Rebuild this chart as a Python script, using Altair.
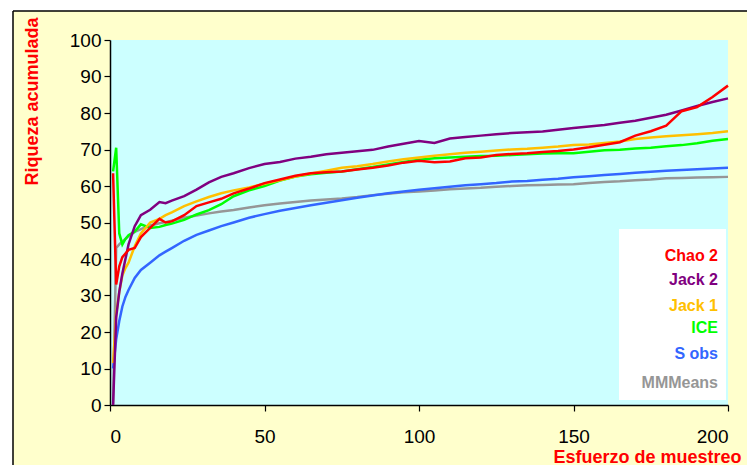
import altair as alt
import pandas as pd

samples = [1, 2, 3, 4, 5, 6, 8, 10, 13, 16, 18, 20, 24, 28, 32, 36, 40,
           45, 50, 55, 60, 65, 70, 75, 80, 85, 90,
           95, 100, 105, 110, 115, 120, 125, 130, 135, 140,
           145, 150, 155, 160, 165, 170, 175, 180, 185, 190,
           195, 200]

chao2 = [63.5, 33, 38, 40.5, 41.5, 42.5, 43, 46, 48.5, 51, 50, 50.3,
         52, 54.5, 55.5, 56.5, 58,
         59.3, 60.8, 61.8, 62.8, 63.5, 63.8, 64, 64.5, 65, 65.6,
         66.4, 66.9, 66.5, 66.7, 67.6, 67.8, 68.5, 68.8, 69, 69.3,
         69.6, 70, 70.6, 71.3, 72, 73.8, 75, 76.5, 80.5, 81.6,
         84.4, 87.5]

jack2 = [0, 24, 31, 36, 40, 44, 49, 52, 53.5, 55.6, 55.3, 56,
         57.2, 59, 61, 62.5, 63.5,
         64.9, 66, 66.6, 67.5, 68, 68.7, 69.1, 69.5, 69.9, 70.8,
         71.6, 72.3, 71.8, 73, 73.4, 73.8, 74.2, 74.5, 74.7, 74.9,
         75.4, 75.9, 76.3, 76.7, 77.3, 77.9, 78.7, 79.5, 80.7, 81.9,
         83, 84]

jack1 = [11.5, 25, 31, 35.5, 37.5, 39, 43.5, 47, 50, 51, 52, 52.8,
         54.5, 55.8, 57, 58, 58.8,
         59.6, 60.6, 61.6, 62.6, 63.4, 64.2, 65, 65.4, 66, 66.7,
         67.3, 67.8, 68.3, 68.7, 69.1, 69.4, 69.7, 70, 70.2, 70.5,
         70.8, 71.2, 71.4, 71.8, 72.2, 72.9, 73.3, 73.6, 73.9, 74.2,
         74.5, 75]

ice = [64, 70.5, 47, 44, 45.5, 46.5, 47.5, 49.5, 48.5, 48.8, 49.3, 49.7,
       50.7, 52.2, 53.4, 55, 57.2,
       58.8, 60, 61.5, 62.6, 63.2, 63.6, 64, 64.6, 65.2, 65.9,
       66.6, 67.2, 67.6, 67.8, 68, 68.2, 68.3, 68.5, 68.7, 68.9,
       69, 69, 69.4, 69.8, 69.9, 70.3, 70.5, 70.9, 71.2, 71.7,
       72.4, 72.9]

sobs = [10, 18, 23, 27, 29.6, 31.5, 34.8, 37, 39, 41, 42, 43,
        45, 46.6, 47.8, 49, 50,
        51.3, 52.3, 53.2, 54, 54.7, 55.4, 56.1, 56.8, 57.4, 58,
        58.5, 59, 59.4, 59.8, 60.2, 60.5, 60.8, 61.2, 61.4, 61.7,
        62, 62.4, 62.7, 63, 63.3, 63.6, 63.9, 64.2, 64.4, 64.6,
        64.8, 65]

mmmeans = [0, 43, 44, 44.8, 45.5, 46.2, 47.4, 48.2, 49.2, 49.8, 50.1, 50.5,
           51.3, 51.9, 52.5, 53, 53.4,
           54.1, 54.7, 55.2, 55.6, 56, 56.3, 56.6, 57, 57.5, 57.9,
           58.3, 58.5, 58.8, 59.1, 59.3, 59.5, 59.8, 60, 60.2, 60.3,
           60.4, 60.5, 60.8, 61.1, 61.3, 61.6, 61.8, 62.1, 62.2, 62.3,
           62.4, 62.5]

legend_names = ["Chao 2", "Jack 2", "Jack 1", "ICE", "S obs", "MMMeans"]
legend_colors = ["#FF0000", "#800080", "#FFC000", "#00FF00", "#3366FF", "#969696"]
x_ticks = [0, 50, 100, 150, 200]
y_ticks = [0, 10, 20, 30, 40, 50, 60, 70, 80, 90, 100]

# drawing order (bottom to top)
draw_order = ["MMMeans", "S obs", "ICE", "Jack 1", "Jack 2", "Chao 2"]
values_by_name = {"Chao 2": chao2, "Jack 2": jack2, "Jack 1": jack1,
                  "ICE": ice, "S obs": sobs, "MMMeans": mmmeans}

rows = []
for i, name in enumerate(draw_order):
    for s, v in zip(samples, values_by_name[name]):
        rows.append({"Serie": name, "Muestras": s, "Riqueza": v, "orden": i})
df = pd.DataFrame(rows)

FONT = "Liberation Sans"
TICK_FONT = "Liberation Sans Narrow, Liberation Sans"

lines = alt.Chart(df).mark_line(strokeWidth=2.5).encode(
    x=alt.X("Muestras:Q", scale=alt.Scale(domain=[0, 200], nice=False),
            axis=alt.Axis(values=x_ticks, title="Esfuerzo de muestreo", grid=False,
                          titleColor="#FF0000", titleFont=FONT, titleFontSize=18,
                          titleFontWeight="bold", titleX=631, titleY=57,
                          titleAlign="right", titleBaseline="alphabetic",
                          labelFont=TICK_FONT, labelFontSize=19, labelColor="black",
                          labelPadding=16, tickSize=6, tickColor="black",
                          domainColor="black", domainWidth=1.5, tickWidth=1.2)),
    y=alt.Y("Riqueza:Q", scale=alt.Scale(domain=[0, 100], nice=False),
            axis=alt.Axis(values=y_ticks, title="Riqueza acumulada", grid=False,
                          titleColor="#FF0000", titleFont=FONT, titleFontSize=18,
                          titleFontWeight="bold", titleX=-78, titleY=61,
                          titleAngle=270, titleAlign="center", titleBaseline="middle",
                          labelFont=TICK_FONT, labelFontSize=19, labelColor="black",
                          labelPadding=3, tickSize=6, tickColor="black",
                          domainColor="black", domainWidth=1.5, tickWidth=1.2)),
    color=alt.Color("Serie:N", scale=alt.Scale(domain=legend_names, range=legend_colors),
                    legend=None),
    detail="Serie:N",
    order=alt.Order("Muestras:Q"),
)

one = pd.DataFrame({"a": [0]})

# page frame: white strips outside the black border
white_left = alt.Chart(one).mark_rect(fill="white").encode(
    x=alt.value(-102), x2=alt.value(-97), y=alt.value(-32), y2=alt.value(435))
white_top = alt.Chart(one).mark_rect(fill="white").encode(
    x=alt.value(-102), x2=alt.value(640), y=alt.value(-32), y2=alt.value(-29))
border_left = alt.Chart(one).mark_rule(color="black", strokeWidth=1.5).encode(
    x=alt.value(-97), y=alt.value(-29), y2=alt.value(440))
border_top = alt.Chart(one).mark_rule(color="black", strokeWidth=1.5).encode(
    x=alt.value(-97), x2=alt.value(650), y=alt.value(-29))

legend_box = alt.Chart(one).mark_rect(fill="white").encode(
    x=alt.value(509), x2=alt.value(616), y=alt.value(189), y2=alt.value(360))

legend_y = [216, 240, 265.5, 288, 314, 342.5]
legend_layers = []
for name, col, yy in zip(legend_names, legend_colors, legend_y):
    legend_layers.append(
        alt.Chart(pd.DataFrame({"t": [name]})).mark_text(
            align="right", baseline="middle", font=FONT, fontSize=16,
            fontWeight="bold", color=col
        ).encode(x=alt.value(608), y=alt.value(yy), text="t:N")
    )

chart = alt.layer(
    white_left, white_top, border_left, border_top, lines, legend_box, *legend_layers
).properties(
    width=618, height=365,
    padding={"left": 102, "top": 32, "right": 19, "bottom": 60},
    autosize=alt.AutoSizeParams(type="none"),
    background="#FFFFCC",
).configure_view(stroke=None, fill="#CCFFFF")

chart.save("out.html", embed_options={"renderer": "svg", "actions": False})
